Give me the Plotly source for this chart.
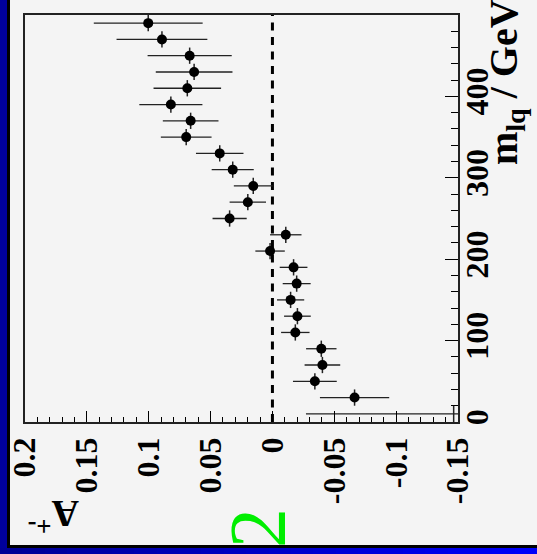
import plotly.graph_objects as go

# ---------------- data ----------------
M_LQ = [30, 50, 70, 90, 110, 130, 150, 170, 190, 210, 230, 250,
        270, 290, 310, 330, 350, 370, 390, 410, 430, 450, 470, 490]
A_PLUS = [-0.0664, -0.0343, -0.0404, -0.0395, -0.0185, -0.0202, -0.0147, -0.0196,
          -0.0171, 0.0019, -0.0108, 0.0346, 0.0199, 0.0155, 0.0321, 0.0426,
          0.0697, 0.0661, 0.0821, 0.0688, 0.0633, 0.0669, 0.0893, 0.1004]
A_ERR = [0.0280, 0.0177, 0.0144, 0.0123, 0.0115, 0.0108, 0.0110, 0.0113,
         0.0112, 0.0119, 0.0127, 0.0138, 0.0147, 0.0157, 0.0170, 0.0192,
         0.0205, 0.0225, 0.0255, 0.0273, 0.0310, 0.0340, 0.0367, 0.0440]
BIN_HALF = 10

# first bin: centre at the frame edge, marker not drawn
EDGE_M = [10]
EDGE_A = [-0.1465]
EDGE_ERR = [0.1194]

X_TICKS = [0.2, 0.15, 0.1, 0.05, 0, -0.05, -0.1, -0.15]
X_LABELS = ["0.2", "0.15", "0.1", "0.05", "0", "-0.05", "-0.1", "-0.15"]
Y_TICKS = [0, 100, 200, 300, 400, 500]
Y_LABELS = ["0", "100", "200", "300", "400", "500"]
X_RANGE = [0.2, -0.15]
Y_RANGE = [0, 500]
REF_X = 0

# ---------------- layout geometry ----------------
W, H = 537, 554
L, R, T, B = 25, 79, 15, 132
PW, PH = W - L - R, H - T - B

def px(xp):
    return (xp - L) / PW

def py(yp):
    return 1 - (yp - T) / PH

FONT = "Liberation Serif"
BG = "#f4f4f4"

fig = go.Figure()

fig.add_trace(go.Scatter(
    x=EDGE_A, y=EDGE_M, mode="markers",
    marker=dict(size=10, color="black", opacity=0),
    error_x=dict(type="data", array=EDGE_ERR, color="#222", thickness=1.3, width=0),
    error_y=dict(type="data", array=[BIN_HALF] * len(EDGE_M), color="#222", thickness=1.5, width=0),
    showlegend=False, hoverinfo="skip"))

fig.add_trace(go.Scatter(
    x=A_PLUS, y=M_LQ, mode="markers",
    marker=dict(size=10, color="black", symbol="circle"),
    error_x=dict(type="data", array=A_ERR, color="#222", thickness=1.3, width=0),
    error_y=dict(type="data", array=[BIN_HALF] * len(M_LQ), color="#222", thickness=1.5, width=0),
    showlegend=False))

fig.add_shape(type="line", xref="x", yref="y", x0=REF_X, x1=REF_X,
              y0=Y_RANGE[0], y1=Y_RANGE[1],
              line=dict(color="black", width=3, dash="8px,6.5px"), layer="below")

tickfont = dict(family=FONT, size=32, color="black", weight="bold")

fig.update_xaxes(
    range=X_RANGE, autorange=False, tickmode="array", tickvals=X_TICKS, ticktext=X_LABELS,
    ticks="inside", ticklen=11, tickwidth=1.3, tickcolor="black",
    minor=dict(tickmode="linear", tick0=0, dtick=0.01, ticks="inside", ticklen=5,
               tickwidth=1, tickcolor="black"),
    showgrid=False, zeroline=False, showline=True, linecolor="#222", linewidth=1.5,
    mirror=True, tickangle=-90, tickfont=tickfont, ticklabelstandoff=1, automargin=False)

fig.update_yaxes(
    range=Y_RANGE, autorange=False, side="right", tickmode="array", tickvals=Y_TICKS,
    ticktext=Y_LABELS, ticks="inside", ticklen=13, tickwidth=1.3, tickcolor="black",
    minor=dict(tickmode="linear", tick0=0, dtick=20, ticks="inside", ticklen=7,
               tickwidth=1, tickcolor="black"),
    showgrid=False, zeroline=False, showline=True, linecolor="#222", linewidth=1.5,
    mirror=True, tickangle=-90, tickfont=tickfont, ticklabelstandoff=-10, automargin=False)

annotations = [
    dict(text="m<sub>lq</sub> / GeV", textangle=-90, xref="paper", yref="paper",
         x=px(506), y=py(82), xanchor="center", yanchor="middle", showarrow=False,
         font=dict(family=FONT, size=40, color="black", weight="bold")),
    dict(text="A<sup>+-</sup>", textangle=180, xref="paper", yref="paper",
         x=px(54), y=py(517), xanchor="center", yanchor="middle", showarrow=False,
         font=dict(family=FONT, size=38, color="black", weight="bold")),
    dict(text="2", textangle=-90, xref="paper", yref="paper",
         x=px(258), y=py(528), xanchor="center", yanchor="middle", showarrow=False,
         font=dict(family=FONT, size=80, color="#00ee00")),
]

def box(x0, y0, w, h, color):
    return dict(text=" ", xref="paper", yref="paper", x=px(x0), y=py(y0),
                xanchor="left", yanchor="top", width=w, height=h, bgcolor=color,
                borderpad=0, borderwidth=0, showarrow=False, font=dict(size=1))

# canvas border (drawn after the text so it covers it)
annotations.append(box(0, 0, 7, H, "#00009c"))
annotations.append(box(7, 0, 3, 548, "#000000"))
annotations.append(box(7, 545, W - 7, 3, "#000000"))
NSEG = 24
seg_w = W / NSEG
for i in range(NSEG):
    t = i / (NSEG - 1)
    b = int(150 + t * 100)
    annotations.append(box(i * seg_w, 548, seg_w + 1.5, 6, f"rgb(0,0,{b})"))

fig.update_layout(
    width=W, height=H, margin=dict(l=L, r=R, t=T, b=B, autoexpand=False),
    paper_bgcolor=BG, plot_bgcolor=BG, annotations=annotations, showlegend=False)

fig.write_html("out.html")
